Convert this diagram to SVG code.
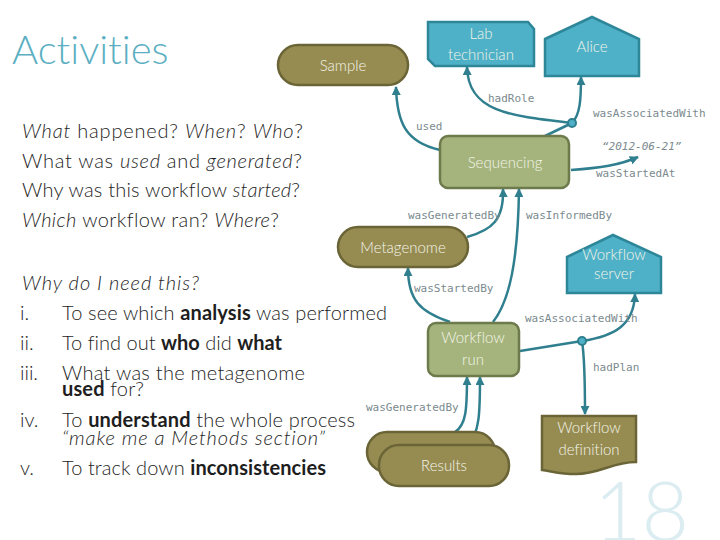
<svg xmlns="http://www.w3.org/2000/svg" width="720" height="540" viewBox="0 0 720 540">
<defs>
<marker id="ah" viewBox="0 0 10 10" refX="9" refY="5" markerWidth="9" markerHeight="9" markerUnits="userSpaceOnUse" orient="auto"><path d="M0,0 L10,5 L0,10 z" fill="#2f7f8f"/></marker>
<style>
text{font-variant-ligatures:none}
.body{font-family:Lato,"Open Sans","Liberation Sans",sans-serif;font-weight:300;fill:#1e1e1e}
.b{font-weight:700}
.i{font-style:italic}
.ent{fill:#968c52;stroke:#6b6436;stroke-width:2.5}
.act{fill:#a5b47d;stroke:#6d7a4c;stroke-width:2.5}
.ag{fill:#4fb1c7;stroke:#2e8699;stroke-width:2.5}
.nt{font-family:Lato,"Open Sans","Liberation Sans",sans-serif;font-weight:300;font-size:15px;fill:#f4f4e8;text-anchor:middle}
.lbl{font-family:"DejaVu Sans Mono","Liberation Mono",monospace;font-size:11px;fill:#7b8a8e}
.e{fill:none;stroke:#2f7f8f;stroke-width:2.5}
.ea{fill:none;stroke:#2f7f8f;stroke-width:2.5;marker-end:url(#ah)}
.dot{fill:#4fb1c7;stroke:#2f7f8f;stroke-width:2}
</style>
</defs>
<rect width="720" height="540" fill="#ffffff"/>
<text x="12" y="64" style="font-family:Lato,'Open Sans','Liberation Sans',sans-serif;font-weight:300;font-size:40px;fill:#5cafc2">Activities</text>
<text x="594" y="541" style="font-family:Lato,'Open Sans','Liberation Sans',sans-serif;font-weight:300;font-size:82px;fill:#dcedf2">18</text>

<g class="body" font-size="20">
<text x="22" y="138" textLength="281" lengthAdjust="spacing"><tspan class="i">What</tspan> happened? <tspan class="i">When</tspan>? <tspan class="i">Who</tspan>?</text>
<text x="22" y="168" textLength="280" lengthAdjust="spacing">What was <tspan class="i">used</tspan> and <tspan class="i">generated</tspan>?</text>
<text x="22" y="197" textLength="278" lengthAdjust="spacing">Why was this workflow <tspan class="i">started</tspan>?</text>
<text x="22" y="227" textLength="257" lengthAdjust="spacing"><tspan class="i">Which</tspan> workflow ran? <tspan class="i">Where</tspan>?</text>
<text x="22" y="290" class="i" textLength="177" lengthAdjust="spacing">Why do I need this?</text>
<text x="20" y="320">i.</text><text x="62" y="320" textLength="325" lengthAdjust="spacing">To see which <tspan class="b">analysis</tspan> was performed</text>
<text x="20" y="350">ii.</text><text x="62" y="350" textLength="220" lengthAdjust="spacing">To find out <tspan class="b">who</tspan> did <tspan class="b">what</tspan></text>
<text x="20" y="380">iii.</text><text x="62" y="380" textLength="243" lengthAdjust="spacing">What was the metagenome</text>
<text x="62" y="396" textLength="82" lengthAdjust="spacing"><tspan class="b">used</tspan> for?</text>
<text x="20" y="427">iv.</text><text x="62" y="427" textLength="293" lengthAdjust="spacing">To <tspan class="b">understand</tspan> the whole process</text>
<text x="62" y="445" class="i" textLength="263" lengthAdjust="spacing">“make me a Methods section”</text>
<text x="20" y="475">v.</text><text x="62" y="475" textLength="264" lengthAdjust="spacing">To track down <tspan class="b">inconsistencies</tspan></text>
</g>

<g id="connectors">
<path class="ea" d="M440,150 C405,142 397,122 396,87"/>
<path class="ea" d="M572,123 C510,116 468,112 467,67"/>
<path class="e" d="M545,136 L572,123"/>
<path class="ea" d="M572,123 C580,115 581,100 581,77"/>
<path class="ea" d="M571,170 C600,168 620,165 638,157"/>
<path class="ea" d="M467,237 C492,230 504,220 503,189"/>
<path class="ea" d="M493,322 C510,300 518,260 519,189"/>
<path class="ea" d="M450,322 C420,312 408,300 408,268"/>
<path class="e" d="M520,351 L582,341"/>
<path class="ea" d="M582,341 C615,336 634,325 635,294"/>
<path class="ea" d="M582,341 C585,360 585,390 585,414"/>
<path class="ea" d="M455,432 C466,425 467,410 467,377"/>
<path class="ea" d="M467,445 C480,435 480,410 480,377"/>
<circle class="dot" cx="572" cy="123" r="4"/>
<circle class="dot" cx="582" cy="341" r="4"/>
<g class="lbl">
<text x="488" y="102">hadRole</text>
<text x="593" y="117">wasAssociatedWith</text>
<text x="416" y="130">used</text>
<text x="602" y="150" font-style="italic">“2012-06-21”</text>
<text x="596" y="177">wasStartedAt</text>
<text x="408" y="219">wasGeneratedBy</text>
<text x="526" y="219">wasInformedBy</text>
<text x="414" y="292">wasStartedBy</text>
<text x="525" y="322">wasAssociatedWith</text>
<text x="593" y="371">hadPlan</text>
<text x="366" y="411">wasGeneratedBy</text>
</g>
</g>

<g id="sample"><rect class="ent" x="278" y="45" width="130" height="40" rx="20"/><text class="nt" x="343" y="71">Sample</text></g>
<g id="lab-technician"><path class="ag" d="M428,22 L528,22 L534,29 L534,66 L435,66 L428,59 Z"/><text class="nt" x="481" y="39">Lab</text><text class="nt" x="481" y="60">technician</text></g>
<g id="alice"><path class="ag" d="M545,39 L592,17 L639,39 L639,76 L545,76 Z"/><text class="nt" x="592" y="52">Alice</text></g>
<g id="sequencing"><rect class="act" x="440" y="136" width="129" height="52" rx="8"/><text class="nt" x="505" y="168">Sequencing</text></g>
<g id="metagenome"><rect class="ent" x="338" y="227" width="130" height="40" rx="20"/><text class="nt" x="403" y="253">Metagenome</text></g>
<g id="workflow-server"><path class="ag" d="M567,257 L613,235 L661,257 L661,293 L567,293 Z"/><text class="nt" x="614" y="260">Workflow</text><text class="nt" x="614" y="279">server</text></g>
<g id="workflow-run"><rect class="act" x="428" y="323" width="91" height="53" rx="8"/><text class="nt" x="473" y="343">Workflow</text><text class="nt" x="473" y="365">run</text></g>
<g id="workflow-definition"><path class="ent" d="M542,416 L636,416 L636,462 C612,462 600,474 576,474 C560,474 551,471 542,470 Z"/><text class="nt" x="589" y="433">Workflow</text><text class="nt" x="589" y="455">definition</text></g>
<g id="results"><rect class="ent" x="367" y="432" width="128" height="40" rx="20"/><rect class="ent" x="379" y="445" width="130" height="41" rx="20"/><text class="nt" x="444" y="471">Results</text></g>
</svg>
